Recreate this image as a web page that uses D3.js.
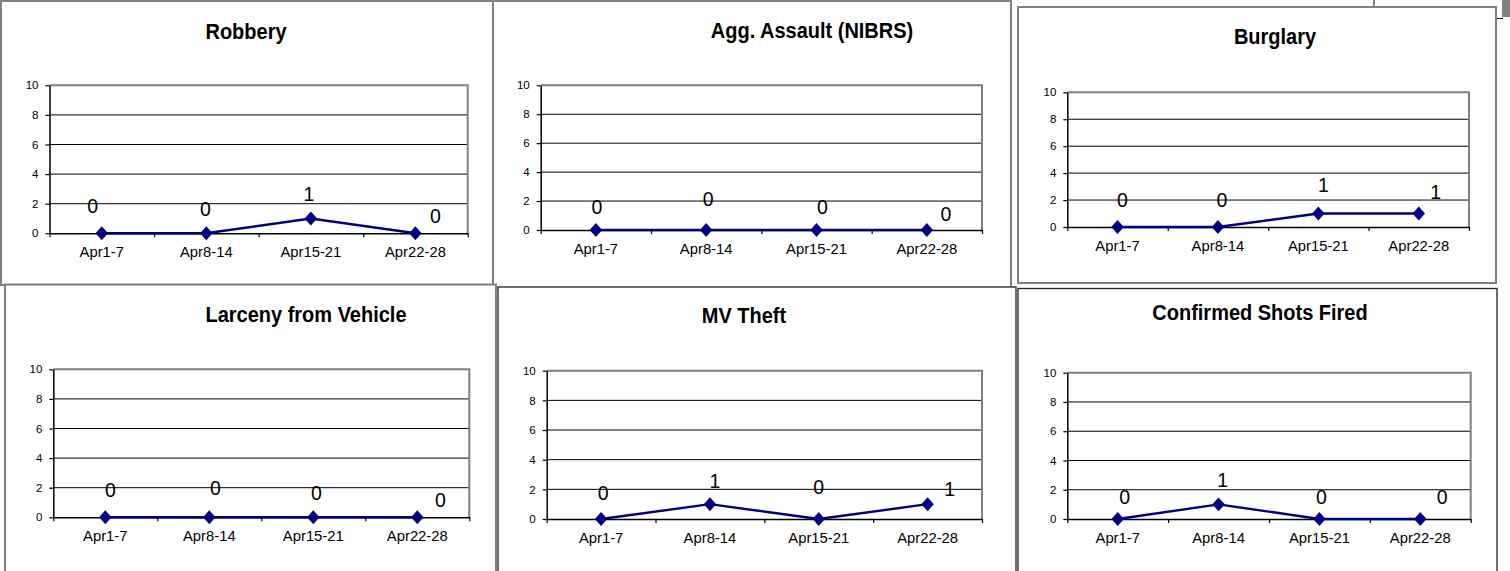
<!DOCTYPE html>
<meta charset="utf-8">
<title>Weekly crime counts, April</title>
<style>
  body { margin: 0; background: #fff; }
  svg { display: block; font-family: "Liberation Sans", Arial, sans-serif; }
</style>
<svg id="chart" width="1510" height="571"></svg>
<script src="https://cdn.jsdelivr.net/npm/d3@7/dist/d3.min.js"></script>
<script>
// data
var weeks = ["Apr1-7", "Apr8-14", "Apr15-21", "Apr22-28"];
var yTicks = [0, 2, 4, 6, 8, 10];

var robbery        = [0, 0, 1, 0];
var aggAssault     = [0, 0, 0, 0];
var burglary       = [0, 0, 1, 1];
var larcenyVehicle = [0, 0, 0, 0];
var mvTheft        = [0, 1, 0, 1];
var shotsFired     = [0, 1, 0, 0];

var titles = ["Robbery", "Agg. Assault (NIBRS)", "Burglary",
              "Larceny from Vehicle", "MV Theft", "Confirmed Shots Fired"];
var series = [robbery, aggAssault, burglary, larcenyVehicle, mvTheft, shotsFired];

// layout of each pasted chart box: outer box, plot area, title spot, label nudges
var panels = [
  {box: [1, 1, 493, 285], edge: "#808080", ew: 2, plot: [49.5, 85.3, 467.7, 233.3], title: [246, 39.3],
   nudge: [[-9, -28], [-1, -25], [-2, -25], [20, -18]]},
  {box: [493, 1, 1011, 288], edge: "#808080", ew: 2, plot: [540.7, 85.3, 982, 230], title: [812, 38.3],
   nudge: [[1, -23], [2, -31], [6, -23], [19, -16]]},
  {box: [1018, 7, 1496, 283], edge: "#808080", ew: 2, plot: [1067.3, 92.3, 1469, 227], title: [1275, 44.3],
   nudge: [[5, -27], [4, -27], [5, -29], [17, -22]]},
  {box: [5, 284.5, 496, 600], edge: "#808080", ew: 2, plot: [53.3, 369.3, 469.3, 517.3], title: [306, 322.3],
   nudge: [[5, -28], [6, -30], [3, -25], [23, -18]]},
  {box: [498, 287, 1016, 600], edge: "#222", ew: 1.3, plot: [546.7, 370.7, 982, 519], title: [744, 323.3],
   nudge: [[2, -26], [5, -24], [0, -32], [22, -16]]},
  {box: [1018, 288.5, 1497, 600], edge: "#222", ew: 1.3, plot: [1067.3, 372.7, 1470.7, 519], title: [1260, 320],
   nudge: [[7, -22], [4, -25], [2, -22], [22, -22]]}
];

var navy = "#000080";
var svg = d3.select("#chart");

// bits of other objects peeking out behind the top right box
svg.append("line").attr("x1", 1374).attr("x2", 1374).attr("y1", 0).attr("y2", 7)
  .attr("stroke", "#000").attr("stroke-width", 1);
svg.append("rect").attr("x", 1502).attr("y", 0).attr("width", 8).attr("height", 17).attr("fill", "#808080");
svg.append("line").attr("x1", 1496).attr("x2", 1503).attr("y1", 18.5).attr("y2", 18.5)
  .attr("stroke", "#000").attr("stroke-width", 1);

// text in the source is a little taller than wide
function tallText(sel, x, y) {
  sel.attr("transform", "translate(" + x + "," + y + ") scale(1,1.08)");
}

panels.forEach(function(p, i) {
  var b = p.box;
  svg.append("rect")
    .attr("x", b[0]).attr("y", b[1])
    .attr("width", b[2] - b[0]).attr("height", b[3] - b[1])
    .attr("fill", "#fff").attr("stroke", p.edge).attr("stroke-width", p.ew);

  var L = p.plot[0], T = p.plot[1], R = p.plot[2], B = p.plot[3];
  var x = d3.scaleBand().domain(weeks).range([L, R]);
  var xEdge = d3.scaleLinear().domain([0, weeks.length]).range([L, R]);
  var y = d3.scaleLinear().domain([0, 10]).range([B, T]);
  var cx = function(j) { return x(weeks[j]) + x.bandwidth() / 2; };

  var g = svg.append("g");

  g.append("text")
    .call(tallText, p.title[0], p.title[1])
    .attr("text-anchor", "middle")
    .attr("font-weight", "bold").attr("font-size", 20)
    .text(titles[i]);

  // gridlines
  g.selectAll("line.grid").data(yTicks.slice(1, -1)).join("line")
    .attr("class", "grid")
    .attr("x1", L).attr("x2", R)
    .attr("y1", function(d) { return y(d); }).attr("y2", function(d) { return y(d); })
    .attr("stroke", "#000").attr("stroke-width", 1);

  // plot frame top and right
  g.append("path")
    .attr("d", "M" + L + "," + y(10) + "H" + R + "V" + y(0))
    .attr("fill", "none").attr("stroke", "#808080").attr("stroke-width", 2);

  var yAxis = g.append("g")
    .attr("transform", "translate(" + L + ",0)")
    .call(d3.axisLeft(y).tickValues(yTicks).tickSize(4).tickPadding(7).tickSizeOuter(0));

  var edgeAxis = g.append("g")
    .attr("transform", "translate(0," + B + ")")
    .call(d3.axisBottom(xEdge).tickValues(d3.range(weeks.length + 1))
      .tickSize(4).tickSizeOuter(0).tickFormat(""));

  var xAxis = g.append("g")
    .attr("transform", "translate(0," + B + ")")
    .call(d3.axisBottom(x).tickSize(0).tickPadding(13));
  xAxis.select(".domain").remove();

  [yAxis, edgeAxis, xAxis].forEach(function(a) {
    a.attr("font-family", null);
    a.selectAll(".domain").attr("stroke", "#000").attr("stroke-width", 1.5);
    a.selectAll(".tick line").attr("stroke", "#000").attr("stroke-width", 1.2);
    a.selectAll("text").attr("fill", "#000");
  });
  yAxis.attr("font-size", 11.5);
  xAxis.attr("font-size", 14.8);

  var vals = series[i];
  var line = d3.line()
    .x(function(d, j) { return cx(j); })
    .y(function(d) { return y(d); });

  g.append("path").datum(vals)
    .attr("d", line)
    .attr("fill", "none").attr("stroke", navy).attr("stroke-width", 2.4);

  g.selectAll("path.pt").data(vals).join("path")
    .attr("class", "pt")
    .attr("d", d3.symbol(d3.symbolSquare, 78))
    .attr("transform", function(d, j) {
      return "translate(" + cx(j) + "," + y(d) + ") scale(1,1.12) rotate(45)";
    })
    .attr("fill", navy);

  g.selectAll("text.lbl").data(vals).join("text")
    .attr("class", "lbl")
    .each(function(d, j) {
      d3.select(this).call(tallText, cx(j) + p.nudge[j][0], y(d) + p.nudge[j][1]);
    })
    .attr("dy", "0.35em")
    .attr("text-anchor", "middle")
    .attr("font-size", 19.5)
    .text(function(d) { return d; });
});
</script>
